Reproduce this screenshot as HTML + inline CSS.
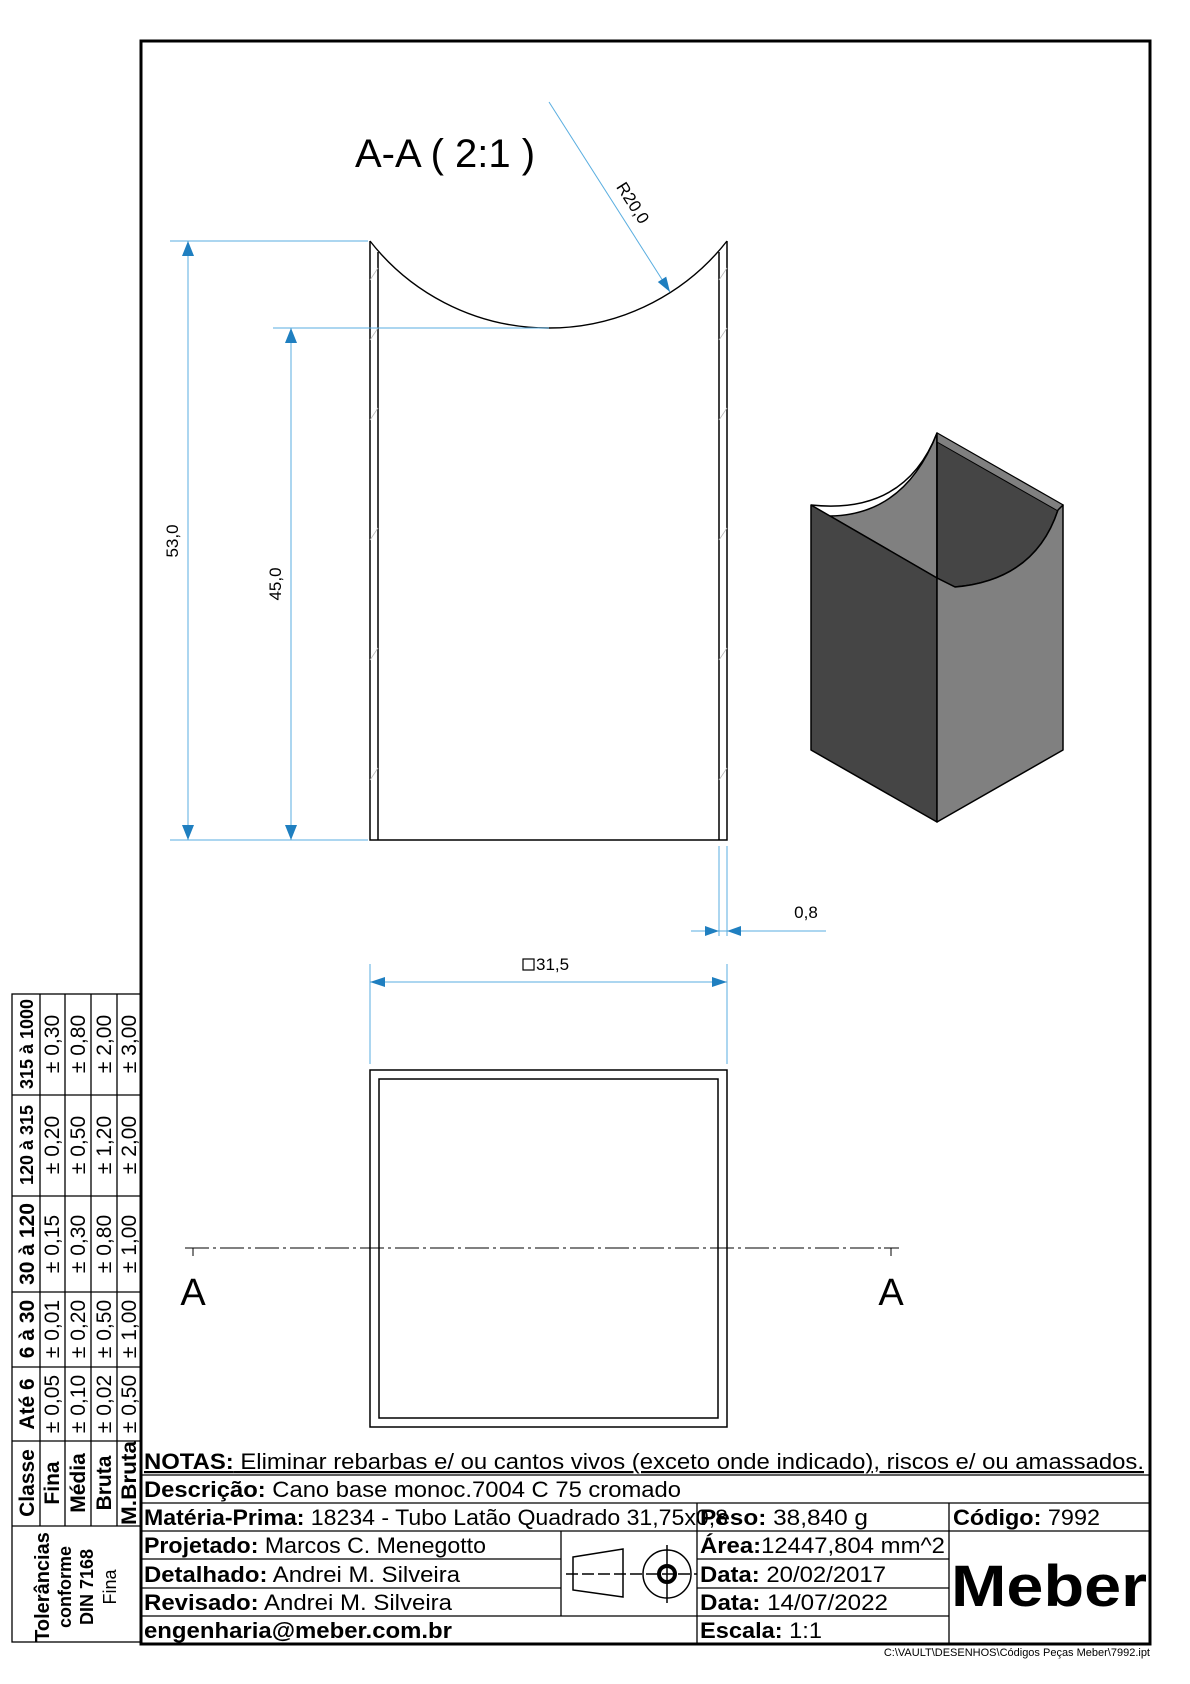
<!DOCTYPE html>
<html><head><meta charset="utf-8"><style>
html,body{margin:0;padding:0;background:#fff;}
svg{display:block;}
text{font-family:"Liberation Sans",sans-serif;}
.n{font-family:"Liberation Sans Narrow","Liberation Sans",sans-serif;}
</style></head><body>
<svg width="1190" height="1684" viewBox="0 0 1190 1684" xmlns="http://www.w3.org/2000/svg">
<rect x="0" y="0" width="1190" height="1684" fill="#fff"/>
<rect x="141" y="41" width="1009" height="1603" fill="none" stroke="#000" stroke-width="3"/>

<text x="355" y="167" font-size="40">A-A ( 2:1 )</text>

<g stroke="#000" stroke-width="1.5" fill="none">
<path d="M370 241 L370 840 L727 840 L727 241"/>
<line x1="378" y1="252" x2="378" y2="840"/>
<line x1="719" y1="252" x2="719" y2="840"/>
<path d="M370 241 A226.6 226.6 0 0 0 727 241" stroke-width="1.4"/>
</g>
<g stroke="#bbb" stroke-width="0.8">
<line x1="370" y1="280" x2="378" y2="268"/><line x1="370" y1="340" x2="378" y2="328"/>
<line x1="370" y1="420" x2="378" y2="408"/><line x1="370" y1="540" x2="378" y2="528"/>
<line x1="370" y1="660" x2="378" y2="648"/><line x1="370" y1="780" x2="378" y2="768"/>
<line x1="719" y1="280" x2="727" y2="268"/><line x1="719" y1="340" x2="727" y2="328"/>
<line x1="719" y1="420" x2="727" y2="408"/><line x1="719" y1="540" x2="727" y2="528"/>
<line x1="719" y1="660" x2="727" y2="648"/><line x1="719" y1="780" x2="727" y2="768"/>
</g>

<g stroke="#5aaee0" stroke-width="1" fill="none">
<line x1="170" y1="241" x2="368" y2="241"/>
<line x1="170" y1="840" x2="368" y2="840"/>
<line x1="273" y1="328" x2="549" y2="328"/>
<line x1="188" y1="241" x2="188" y2="840"/>
<line x1="291" y1="328" x2="291" y2="840"/>
<line x1="549" y1="102" x2="670" y2="292"/>
<line x1="719" y1="846" x2="719" y2="936"/>
<line x1="727" y1="846" x2="727" y2="936"/>
<line x1="691" y1="931" x2="826" y2="931"/>
<line x1="370" y1="964" x2="370" y2="1064"/>
<line x1="727" y1="964" x2="727" y2="1064"/>
<line x1="370" y1="982" x2="727" y2="982"/>
</g>
<g fill="#1f7fc0">
<polygon points="188,241 182,256 194,256"/>
<polygon points="188,840 182,825 194,825"/>
<polygon points="291,328 285,343 297,343"/>
<polygon points="291,840 285,825 297,825"/>
<polygon points="670,292 666.2,276.6 657.8,282"/>
<polygon points="719,931 705,926 705,936"/>
<polygon points="727,931 741,926 741,936"/>
<polygon points="370,982 385,977 385,987"/>
<polygon points="727,982 712,977 712,987"/>
</g>
<text x="0" y="0" font-size="17" text-anchor="middle" transform="translate(178,541) rotate(-90)">53,0</text>
<text x="0" y="0" font-size="17" text-anchor="middle" transform="translate(281,584) rotate(-90)">45,0</text>
<text x="0" y="0" font-size="17" text-anchor="middle" transform="translate(628,206) rotate(57.5)">R20,0</text>
<text x="806" y="918" font-size="17" text-anchor="middle">0,8</text>
<rect x="523" y="959" width="11" height="11" fill="none" stroke="#000" stroke-width="1.2"/>
<text x="536" y="970" font-size="17">31,5</text>

<rect x="370" y="1070" width="357" height="357" fill="none" stroke="#000" stroke-width="1.5"/>
<rect x="379" y="1079" width="339" height="339" fill="none" stroke="#000" stroke-width="1.5"/>
<line x1="185" y1="1248" x2="899" y2="1248" stroke="#000" stroke-width="1" stroke-dasharray="24,4,3,4"/>
<g stroke="#000" stroke-width="1">
<line x1="186" y1="1248" x2="200" y2="1248"/><line x1="193" y1="1248" x2="193" y2="1256"/>
<line x1="884" y1="1248" x2="898" y2="1248"/><line x1="891" y1="1248" x2="891" y2="1256"/>
</g>
<text x="193" y="1305" font-size="38" text-anchor="middle">A</text>
<text x="891" y="1305" font-size="38" text-anchor="middle">A</text>

<g stroke="#000" stroke-width="1.5" stroke-linejoin="round">
<path d="M937 433 Q905 515 830 516 L937 578 L937 433 Z" fill="#808080"/>
<path d="M937 433 L1063 505 L1058 510 Q1035 580 955 587 L937 578 Z" fill="#454545"/>
<path d="M937 433 L1063 505 L1058 511 L937 442 Z" fill="#808080" stroke-width="1"/>
<path d="M811 505 L830 516 L937 578 L937 822 L811 750 Z" fill="#454545"/>
<path d="M937 578 L955 587 Q1035 580 1058 510 L1063 505 L1063 750 L937 822 Z" fill="#808080"/>
<path d="M811 505 Q905 515 937 433" fill="none"/>
<line x1="937" y1="433" x2="937" y2="578"/>
</g>

<g stroke="#000" stroke-width="1.3" fill="none">
<rect x="12" y="994" width="129" height="648"/>
<line x1="40" y1="994" x2="40" y2="1526"/>
<line x1="65" y1="994" x2="65" y2="1526"/>
<line x1="91" y1="994" x2="91" y2="1526"/>
<line x1="117" y1="994" x2="117" y2="1526"/>
<line x1="12" y1="1095" x2="141" y2="1095"/>
<line x1="12" y1="1196" x2="141" y2="1196"/>
<line x1="12" y1="1292" x2="141" y2="1292"/>
<line x1="12" y1="1367" x2="141" y2="1367"/>
<line x1="12" y1="1441" x2="141" y2="1441"/>
<line x1="12" y1="1526" x2="141" y2="1526"/>
</g>
<g font-size="18" font-weight="bold" text-anchor="middle">
<text transform="translate(33,1044) rotate(-90)">315 à 1000</text>
<text transform="translate(33,1145) rotate(-90)">120 à 315</text>
<text transform="translate(34,1244) rotate(-90)" font-size="21">30 à 120</text>
<text transform="translate(34,1329) rotate(-90)" font-size="21">6 à 30</text>
<text transform="translate(34,1404) rotate(-90)" font-size="21">Até 6</text>
<text transform="translate(34,1483) rotate(-90)" font-size="21">Classe</text>
</g>
<g font-size="21" text-anchor="middle">
<text transform="translate(59,1044) rotate(-90)">± 0,30</text>
<text transform="translate(59,1145) rotate(-90)">± 0,20</text>
<text transform="translate(59,1244) rotate(-90)">± 0,15</text>
<text transform="translate(59,1329) rotate(-90)">± 0,01</text>
<text transform="translate(59,1404) rotate(-90)">± 0,05</text>
<text transform="translate(85,1044) rotate(-90)">± 0,80</text>
<text transform="translate(85,1145) rotate(-90)">± 0,50</text>
<text transform="translate(85,1244) rotate(-90)">± 0,30</text>
<text transform="translate(85,1329) rotate(-90)">± 0,20</text>
<text transform="translate(85,1404) rotate(-90)">± 0,10</text>
<text transform="translate(111,1044) rotate(-90)">± 2,00</text>
<text transform="translate(111,1145) rotate(-90)">± 1,20</text>
<text transform="translate(111,1244) rotate(-90)">± 0,80</text>
<text transform="translate(111,1329) rotate(-90)">± 0,50</text>
<text transform="translate(111,1404) rotate(-90)">± 0,02</text>
<text transform="translate(136,1044) rotate(-90)">± 3,00</text>
<text transform="translate(136,1145) rotate(-90)">± 2,00</text>
<text transform="translate(136,1244) rotate(-90)">± 1,00</text>
<text transform="translate(136,1329) rotate(-90)">± 1,00</text>
<text transform="translate(136,1404) rotate(-90)">± 0,50</text>
</g>
<g font-size="21" font-weight="bold" text-anchor="middle">
<text transform="translate(59,1483) rotate(-90)">Fina</text>
<text transform="translate(85,1483) rotate(-90)">Média</text>
<text transform="translate(111,1483) rotate(-90)">Bruta</text>
<text transform="translate(136,1483) rotate(-90)" textLength="84" lengthAdjust="spacingAndGlyphs">M.Bruta</text>
</g>
<g font-weight="bold" text-anchor="middle">
<text transform="translate(49,1587) rotate(-90)" font-size="20">Tolerâncias</text>
<text transform="translate(71,1587) rotate(-90)" font-size="18">conforme</text>
<text transform="translate(93,1587) rotate(-90)" font-size="18">DIN 7168</text>
<text transform="translate(116,1587) rotate(-90)" font-size="18" font-weight="normal">Fina</text>
</g>

<g stroke="#000" stroke-width="1.3" fill="none">
<line x1="141" y1="1475" x2="1150" y2="1475"/>
<line x1="141" y1="1503" x2="1150" y2="1503"/>
<line x1="141" y1="1531" x2="1150" y2="1531"/>
<line x1="141" y1="1559" x2="561" y2="1559"/>
<line x1="697" y1="1559" x2="949" y2="1559"/>
<line x1="141" y1="1588" x2="561" y2="1588"/>
<line x1="697" y1="1588" x2="949" y2="1588"/>
<line x1="141" y1="1616" x2="949" y2="1616"/>
<line x1="561" y1="1531" x2="561" y2="1616"/>
<line x1="697" y1="1503" x2="697" y2="1644"/>
<line x1="949" y1="1503" x2="949" y2="1644"/>
</g>
<g class="n" font-size="22">
<text x="144" y="1469" textLength="1000" lengthAdjust="spacingAndGlyphs" text-decoration="underline"><tspan font-weight="bold">NOTAS:</tspan> Eliminar rebarbas e/ ou cantos vivos (exceto onde indicado), riscos e/ ou amassados.</text>
<text x="144" y="1497" textLength="537" lengthAdjust="spacingAndGlyphs"><tspan font-weight="bold">Descrição:</tspan> Cano base monoc.7004 C 75 cromado</text>
<text x="144" y="1525" textLength="584" lengthAdjust="spacingAndGlyphs"><tspan font-weight="bold">Matéria-Prima:</tspan> 18234 - Tubo Latão Quadrado 31,75x0,8</text>
<text x="700" y="1525" textLength="168" lengthAdjust="spacingAndGlyphs"><tspan font-weight="bold">Peso:</tspan> 38,840 g</text>
<text x="953" y="1525" textLength="147" lengthAdjust="spacingAndGlyphs"><tspan font-weight="bold">Código:</tspan> 7992</text>
<text x="144" y="1553" textLength="342" lengthAdjust="spacingAndGlyphs"><tspan font-weight="bold">Projetado:</tspan> Marcos C. Menegotto</text>
<text x="700" y="1553" textLength="245" lengthAdjust="spacingAndGlyphs"><tspan font-weight="bold">Área:</tspan>12447,804 mm^2</text>
<text x="144" y="1582" textLength="316" lengthAdjust="spacingAndGlyphs"><tspan font-weight="bold">Detalhado:</tspan> Andrei M. Silveira</text>
<text x="700" y="1582" textLength="186" lengthAdjust="spacingAndGlyphs"><tspan font-weight="bold">Data:</tspan> 20/02/2017</text>
<text x="144" y="1610" textLength="308" lengthAdjust="spacingAndGlyphs"><tspan font-weight="bold">Revisado:</tspan> Andrei M. Silveira</text>
<text x="700" y="1610" textLength="188" lengthAdjust="spacingAndGlyphs"><tspan font-weight="bold">Data:</tspan> 14/07/2022</text>
<text x="144" y="1638" textLength="308" lengthAdjust="spacingAndGlyphs" font-weight="bold">engenharia@meber.com.br</text>
<text x="700" y="1638" textLength="122" lengthAdjust="spacingAndGlyphs"><tspan font-weight="bold">Escala:</tspan> 1:1</text>
</g>
<text x="951" y="1606" font-size="58" font-weight="bold" textLength="196" lengthAdjust="spacingAndGlyphs">Meber</text>
<text x="1150" y="1656" font-size="11" text-anchor="end" class="n">C:\VAULT\DESENHOS\Códigos Peças Meber\7992.ipt</text>

<g stroke="#000" stroke-width="1.5" fill="none">
<path d="M573 1557 L623 1549 L623 1597 L573 1590 Z"/>
<line x1="566" y1="1574" x2="697" y2="1574" stroke-dasharray="12,4"/>
<circle cx="667" cy="1574" r="24"/>
<circle cx="667" cy="1574" r="8" stroke-width="4"/>
<line x1="667" y1="1545" x2="667" y2="1603"/>
</g>
</svg>
</body></html>
